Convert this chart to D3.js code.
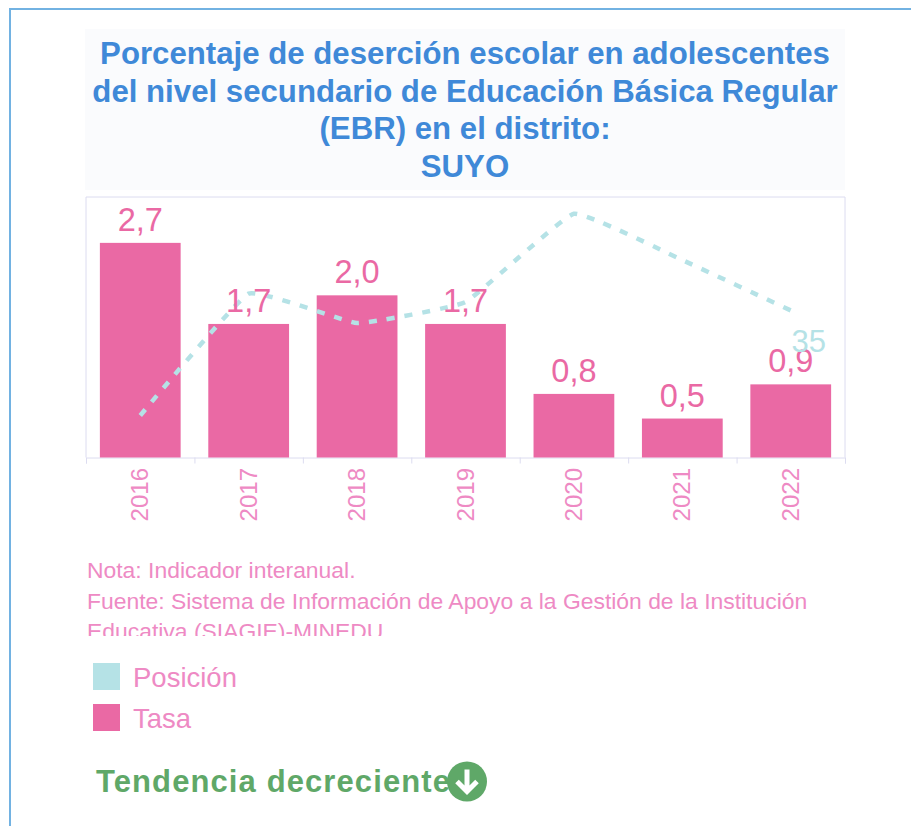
<!DOCTYPE html>
<html lang="es">
  <head>
    <meta charset="utf-8">
    <style>
      body { margin: 0; background: #fff; }
      svg { display: block; font-family: "Liberation Sans", Arial, sans-serif; }
      .domain-line { stroke: #dcdcf0; fill: none; }
    </style>
  </head>
  <body>
    <svg id="container" width="911" height="826"></svg>
    <script src="https://d3js.org/d3.v7.min.js"></script>
    <script>
const years = ["2016", "2017", "2018", "2019", "2020", "2021", "2022"]
const tasa = [2.7, 1.68, 2.04, 1.68, 0.8, 0.49, 0.92]
const posicion = [10, 39, 32, 37, 58, 47, 35]
const titleLines = [
  "Porcentaje de deserción escolar en adolescentes",
  "del nivel secundario de Educación Básica Regular",
  "(EBR) en el distrito:",
  "SUYO"
]
const noteLines = [
  "Nota: Indicador interanual.",
  "Fuente: Sistema de Información de Apoyo a la Gestión de la Institución",
  "Educativa (SIAGIE)-MINEDU"
]
const legendItems = ["Posición", "Tasa"]

const pink = "#ea69a4"
const pinkText = "#ee8ac4"
const teal = "#b5e2e6"
const green = "#5fa868"
const blue = "#3f89d8"

const svg = d3.select("#container")

// frame of the scanned page
svg.append("rect").attr("x", 10).attr("y", 9).attr("width", 920).attr("height", 840)
  .attr("fill", "none").attr("stroke", "#72b2e2").attr("stroke-width", 2)

// pale band behind the title
svg.append("rect").attr("x", 85).attr("y", 29).attr("width", 760).attr("height", 161)
  .attr("fill", "#fafbfd")

svg.append("g").selectAll("text")
  .data(titleLines)
  .enter()
  .append("text")
    .attr("x", 465)
    .attr("y", (d, i) => 64 + i * 37.5)
    .attr("text-anchor", "middle")
    .attr("font-size", 31.2)
    .attr("font-weight", "bold")
    .attr("fill", blue)
    .text(d => d)

const plot = { left: 86, right: 845, top: 197, bottom: 457.5 }

const x = d3.scaleBand()
  .domain(years)
  .range([plot.left, plot.right])
  .paddingInner(0.255)
  .paddingOuter(0.128)

const y = d3.scaleLinear().domain([0, 3.277]).range([plot.bottom, plot.top])
const yPos = d3.scaleLinear().domain([0, 62]).range([plot.bottom, plot.top])

// plot border
svg.append("path")
  .attr("class", "domain-line")
  .attr("d", `M${plot.left},${plot.bottom}V${plot.top}H${plot.right}V${plot.bottom}`)

const tickScale = d3.scalePoint().domain(d3.range(8)).range([plot.left, plot.right])
svg.append("g")
  .attr("transform", `translate(0,${plot.bottom})`)
  .call(d3.axisBottom(tickScale).tickSize(6).tickFormat(""))
  .call(g => g.selectAll("path, line").attr("stroke", "#dcdcf0"))

svg.append("g").selectAll("rect")
  .data(tasa)
  .enter()
  .append("rect")
    .attr("x", (d, i) => x(years[i]))
    .attr("y", d => y(d))
    .attr("width", x.bandwidth())
    .attr("height", d => plot.bottom - y(d))
    .attr("fill", pink)

svg.append("g").selectAll("text")
  .data(years)
  .enter()
  .append("text")
    .attr("transform", d => `translate(${x(d) + x.bandwidth() / 2 + 8},468) rotate(-90)`)
    .attr("text-anchor", "end")
    .attr("font-size", 24)
    .attr("fill", pinkText)
    .text(d => d)

const line = d3.line()
  .x((d, i) => x(years[i]) + x.bandwidth() / 2)
  .y(d => yPos(d))
  .curve(d3.curveCardinal.tension(0.7))

svg.append("path")
  .datum(posicion)
  .attr("d", line)
  .attr("fill", "none")
  .attr("stroke", teal)
  .attr("stroke-width", 4.5)
  .attr("stroke-dasharray", "8 10")

svg.append("g").selectAll("text")
  .data(tasa)
  .enter()
  .append("text")
    .attr("x", (d, i) => x(years[i]) + x.bandwidth() / 2)
    .attr("y", d => y(d) - 12)
    .attr("text-anchor", "middle")
    .attr("font-size", 32.5)
    .attr("fill", pink)
    .text(d => d3.format(".1f")(d).replace(".", ","))

// only the last position has a label
svg.append("text")
  .attr("x", x("2022") + x.bandwidth() / 2 + 18)
  .attr("y", yPos(posicion[6]) + 42)
  .attr("text-anchor", "middle")
  .attr("font-size", 31)
  .attr("fill", teal)
  .text(posicion[6])

// note text is cut off at the bottom in the original
svg.append("clipPath").attr("id", "note-clip")
  .append("rect").attr("x", 0).attr("y", 550).attr("width", 911).attr("height", 86)

svg.append("g").attr("clip-path", "url(#note-clip)")
  .selectAll("text")
  .data(noteLines)
  .enter()
  .append("text")
    .attr("x", 87)
    .attr("y", (d, i) => 578 + i * 30.5)
    .attr("font-size", 22.9)
    .attr("fill", pinkText)
    .text(d => d)

const legend = svg.append("g").selectAll("g")
  .data(legendItems)
  .enter()
  .append("g")
    .attr("transform", (d, i) => `translate(93,${663 + i * 41})`)

legend.append("rect")
  .attr("width", 27)
  .attr("height", 27)
  .attr("fill", (d, i) => i === 0 ? teal : pink)

legend.append("text")
  .attr("x", 40)
  .attr("y", 24)
  .attr("font-size", 27.5)
  .attr("fill", pinkText)
  .text(d => d)

svg.append("text")
  .attr("x", 96)
  .attr("y", 792)
  .attr("font-size", 31)
  .attr("font-weight", "bold")
  .attr("letter-spacing", 1.1)
  .attr("fill", green)
  .text("Tendencia decreciente")

// down arrow badge
const badge = svg.append("g").attr("transform", "translate(467,781.5)")
badge.append("circle").attr("r", 20).attr("fill", green)
badge.append("path")
  .attr("d", "M0,-12V9M-10,0L0,10L10,0")
  .attr("fill", "none")
  .attr("stroke", "#fff")
  .attr("stroke-width", 5)
    </script>
  </body>
</html>
